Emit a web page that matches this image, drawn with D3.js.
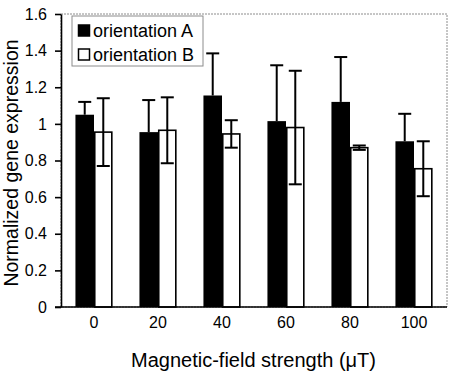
<!DOCTYPE html>
<html>
<head>
<meta charset="utf-8">
<script src="https://cdn.jsdelivr.net/npm/d3@7/dist/d3.min.js"></script>
<style>
  html, body { margin: 0; padding: 0; background: #fff; }
  svg { display: block; font-family: "Liberation Sans", Arial, sans-serif; }
</style>
</head>
<body>
<div id="chart"></div>
<script>
// Field strengths (µT) on the category axis
const fieldStrengths = ['0', '20', '40', '60', '80', '100'];
const seriesNames = ['orientation A', 'orientation B'];

// Mean normalized expression per field strength
const orientationA = [1.05, 0.955, 1.155, 1.015, 1.12, 0.905];
const orientationB = [0.955, 0.965, 0.945, 0.98, 0.87, 0.755];

// Error bar half-widths (read from the whisker tips)
const errorA = [0.07, 0.175, 0.23, 0.305, 0.245, 0.15];
const errorB = [0.185, 0.18, 0.075, 0.31, 0.012, 0.15];

const yTicks = [0, 0.2, 0.4, 0.6, 0.8, 1, 1.2, 1.4, 1.6];
const yTickLabels = ['0', '0.2', '0.4', '0.6', '0.8', '1', '1.2', '1.4', '1.6'];

const width = 452;
const height = 374;
const plot = { left: 61, right: 446, top: 14, bottom: 307 };

const svg = d3.select('#chart')
  .append('svg')
  .attr('width', width)
  .attr('height', height);

svg.append('rect')
  .attr('width', width)
  .attr('height', height)
  .attr('fill', '#fff');

// Scales
const x = d3.scaleBand()
  .domain(fieldStrengths)
  .range([plot.left + 1, plot.right])
  .paddingInner(0.42)
  .paddingOuter(0.21);

const xSeries = d3.scaleBand()
  .domain(seriesNames)
  .range([0, x.bandwidth()]);

const y = d3.scaleLinear()
  .domain([0, 1.6])
  .range([plot.bottom, plot.top]);

// Plot area frame (grey, top and right)
svg.append('rect')
  .attr('x', plot.left)
  .attr('y', plot.top)
  .attr('width', plot.right + 1 - plot.left)
  .attr('height', plot.bottom - plot.top)
  .attr('fill', 'none')
  .attr('stroke', '#8c8c8c')
  .attr('stroke-width', 1)
  .attr('stroke-dasharray', '2,1');

// Build rows for bars
const rows = [];
fieldStrengths.forEach((f, i) => {
  rows.push({ field: f, series: seriesNames[0], value: orientationA[i], err: errorA[i] });
  rows.push({ field: f, series: seriesNames[1], value: orientationB[i], err: errorB[i] });
});

const barGroup = svg.append('g');

barGroup.selectAll('rect')
  .data(rows)
  .join('rect')
  .attr('x', d => x(d.field) + xSeries(d.series) + (d.series === seriesNames[1] ? 0.75 : 0))
  .attr('y', d => y(d.value))
  .attr('width', d => xSeries.bandwidth() - (d.series === seriesNames[1] ? 1.5 : 0))
  .attr('height', d => y(0) - y(d.value))
  .attr('fill', d => d.series === seriesNames[0] ? '#000' : '#fff')
  .attr('stroke', d => d.series === seriesNames[0] ? 'none' : '#000')
  .attr('stroke-width', 1.6);

// Error bars
const capHalf = 6.5;
const errGroup = svg.append('g')
  .attr('stroke', '#000')
  .attr('stroke-width', 2);

rows.forEach(d => {
  const cx = x(d.field) + xSeries(d.series) + xSeries.bandwidth() / 2;
  const lo = d.series === seriesNames[0] ? d.value : d.value - d.err;
  const hi = d.value + d.err;
  errGroup.append('line')
    .attr('x1', cx).attr('x2', cx)
    .attr('y1', y(lo)).attr('y2', y(hi));
  errGroup.append('line')
    .attr('x1', cx - capHalf).attr('x2', cx + capHalf)
    .attr('y1', y(hi)).attr('y2', y(hi));
  if (d.series === seriesNames[1]) {
    errGroup.append('line')
      .attr('x1', cx - capHalf).attr('x2', cx + capHalf)
      .attr('y1', y(lo)).attr('y2', y(lo));
  }
});

// Y axis
const yAxis = d3.axisLeft(y)
  .tickValues(yTicks)
  .tickFormat((d, i) => yTickLabels[i])
  .tickSizeInner(6)
  .tickSizeOuter(0)
  .tickPadding(8);

const yAxisGroup = svg.append('g')
  .attr('transform', `translate(${plot.left},0)`)
  .call(yAxis);

yAxisGroup.selectAll('path, line')
  .attr('stroke', '#000')
  .attr('stroke-width', 1.6);
yAxisGroup.selectAll('text')
  .attr('font-size', '16px')
  .attr('font-family', '"Liberation Sans", Arial, sans-serif')
  .attr('fill', '#000');

// X axis
const xAxis = d3.axisBottom(x)
  .tickSize(0)
  .tickPadding(10);

const xAxisGroup = svg.append('g')
  .attr('transform', `translate(0,${plot.bottom})`)
  .call(xAxis);

xAxisGroup.select('.domain').remove();
xAxisGroup.selectAll('text')
  .attr('font-size', '16px')
  .attr('font-family', '"Liberation Sans", Arial, sans-serif')
  .attr('fill', '#000');

svg.append('line')
  .attr('x1', plot.left - 6)
  .attr('x2', plot.right + 1)
  .attr('y1', plot.bottom)
  .attr('y2', plot.bottom)
  .attr('stroke', '#000')
  .attr('stroke-width', 1.6);

// Axis titles
svg.append('text')
  .attr('x', (plot.left + plot.right) / 2)
  .attr('y', 367)
  .attr('text-anchor', 'middle')
  .attr('font-size', '20px')
  .attr('fill', '#000')
  .text('Magnetic-field strength (\u03bcT)');

svg.append('text')
  .attr('transform', 'rotate(-90)')
  .attr('x', -163)
  .attr('y', 17.5)
  .attr('text-anchor', 'middle')
  .attr('font-size', '19.5px')
  .attr('fill', '#000')
  .text('Normalized gene expression');

// Legend
const legend = svg.append('g')
  .attr('transform', 'translate(72,16)');

legend.append('rect')
  .attr('width', 131)
  .attr('height', 50)
  .attr('fill', '#fff')
  .attr('stroke', '#8c8c8c')
  .attr('stroke-width', 1);

seriesNames.forEach((name, i) => {
  const row = legend.append('g')
    .attr('transform', `translate(6,${9 + i * 24})`);
  row.append('rect')
    .attr('x', 0.5)
    .attr('y', 0)
    .attr('width', 11)
    .attr('height', 11)
    .attr('fill', i === 0 ? '#000' : '#fff')
    .attr('stroke', '#000')
    .attr('stroke-width', 1.5);
  row.append('text')
    .attr('x', 15)
    .attr('y', 11.5)
    .attr('font-size', '18px')
    .attr('fill', '#000')
    .text(name);
});
</script>
</body>
</html>
